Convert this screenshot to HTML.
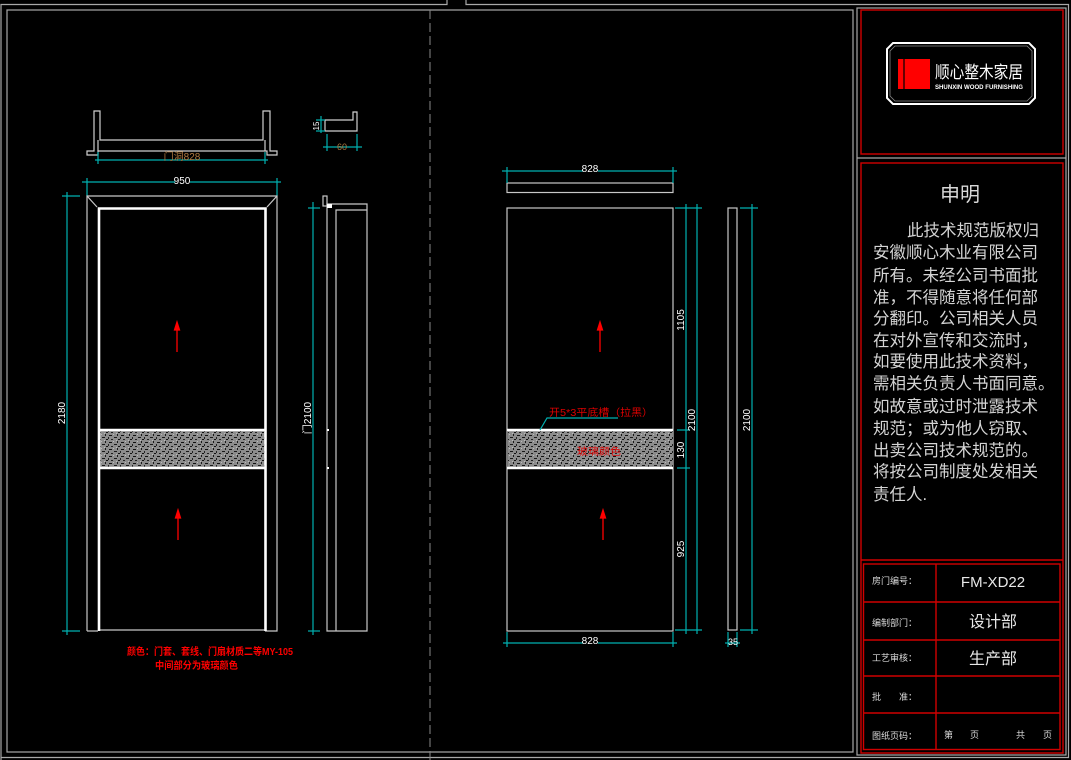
<!DOCTYPE html>
<html><head><meta charset="utf-8">
<style>
html,body{margin:0;padding:0;background:#000;}
svg{display:block;}
text{font-family:"Liberation Sans","Noto Sans CJK SC",sans-serif;}
</style></head>
<body>
<svg width="1071" height="760" viewBox="0 0 1071 760" xmlns="http://www.w3.org/2000/svg">
<defs>
<pattern id="tex" width="12" height="7" patternUnits="userSpaceOnUse">
<rect width="12" height="7" fill="#8c8c8c"/>
<rect x="1" y="1" width="3" height="1" fill="#111"/>
<rect x="6" y="3" width="3" height="1" fill="#1a1a1a"/>
<rect x="3" y="5" width="2" height="1" fill="#222"/>
<rect x="9" y="0" width="1" height="2" fill="#1a1a1a"/>
<rect x="10" y="5" width="2" height="1" fill="#111"/>
<rect x="0" y="3" width="1" height="2" fill="#222"/>
<rect x="5" y="0" width="1" height="1" fill="#bbb"/>
<rect x="8" y="6" width="1" height="1" fill="#bbb"/>
</pattern>
</defs>
<rect width="1071" height="760" fill="#000"/>

<!-- outer frames -->
<g fill="none" stroke="#a8a8a8" stroke-width="1.2">
<polyline points="1,760 1,4.5 447,4.5 447,0"/>
<polyline points="466,0 466,4.5 1068.5,4.5 1068.5,757.5 1,757.5"/>
<rect x="7" y="10" width="846" height="742"/>
<rect x="857" y="8" width="209" height="747"/>
<line x1="857" y1="158" x2="1066" y2="158"/>
</g>
<line x1="430" y1="10" x2="430" y2="760" stroke="#888" stroke-width="1" stroke-dasharray="9,4"/>

<!-- ============ LEFT DOOR ============ -->
<!-- top section view -->
<g fill="none" stroke="#d0d0d0" stroke-width="1.2">
<path d="M94,111 L100,111 L100,140 L263,140 L263,111 L270,111 L270,151 L277,151 L277,155 L267,155 L267,151 L98,151 L98,155 L87,155 L87,151 L94,151 Z"/>
<line x1="98" y1="140" x2="98" y2="151"/>
<line x1="265" y1="140" x2="265" y2="151"/>
<path d="M325,120 L353,120 L353,112 L357,112 L357,131 L325,131 Z"/>
</g>
<g stroke="#00b0b0" stroke-width="1.2" fill="none">
<line x1="95" y1="160" x2="268" y2="160"/>
<line x1="98" y1="152" x2="98" y2="164"/><line x1="265" y1="152" x2="265" y2="164"/>
<line x1="321" y1="116" x2="321" y2="133"/>
<line x1="316" y1="120" x2="325" y2="120"/><line x1="316" y1="131" x2="325" y2="131"/>
<line x1="323" y1="147" x2="362" y2="147"/>
<line x1="327" y1="134" x2="327" y2="151"/><line x1="357" y1="134" x2="357" y2="151"/>
<!-- 950 dim -->
<line x1="82" y1="182" x2="281" y2="182"/>
<line x1="87" y1="178" x2="87" y2="196"/><line x1="277" y1="178" x2="277" y2="196"/>
<!-- 2180 dim -->
<line x1="67" y1="192" x2="67" y2="635"/>
<line x1="62" y1="196" x2="80" y2="196"/><line x1="62" y1="631" x2="80" y2="631"/>
<!-- side 2100 dim -->
<line x1="313" y1="202" x2="313" y2="635"/>
<line x1="308" y1="208" x2="320" y2="208"/><line x1="308" y1="631" x2="320" y2="631"/>
</g>
<text x="182" y="160" font-size="10" fill="#b07a40" text-anchor="middle">门洞828</text>
<text x="342" y="150" font-size="9" fill="#b07a40" text-anchor="middle">60</text>
<text transform="translate(319,126) rotate(-90)" font-size="8" fill="#fff" text-anchor="middle">15</text>
<rect x="175" y="176" width="15" height="9" fill="#000"/>
<text x="182" y="184" font-size="10" fill="#fff" text-anchor="middle">950</text>
<text transform="translate(65,413) rotate(-90)" font-size="10" fill="#fff" text-anchor="middle">2180</text>
<text transform="translate(311,418) rotate(-90)" font-size="10" fill="#fff" text-anchor="middle">门2100</text>

<!-- frame -->
<g fill="none" stroke="#c8c8c8" stroke-width="1.2">
<path d="M87,631 L87,196 L277,196 L277,631 L265,631"/>
<path d="M98,631 L87,631"/>
<line x1="87" y1="196" x2="97" y2="207"/><line x1="277" y1="196" x2="267" y2="207"/>
<line x1="98" y1="630" x2="265" y2="630"/>
</g>
<rect x="99" y="430" width="166" height="38" fill="url(#tex)"/>
<g fill="none" stroke="#fff" stroke-width="2.6">
<path d="M99,631 L99,208.5 L265.5,208.5 L265.5,631"/>
<line x1="98" y1="430" x2="266" y2="430"/>
<line x1="98" y1="468" x2="266" y2="468"/>
</g>
<!-- side section -->
<g fill="none" stroke="#c8c8c8" stroke-width="1.2">
<rect x="323" y="196" width="4" height="10"/>
<path d="M327,631 L327,204 L367,204 L367,631 Z"/>
<path d="M336,631 L336,210 L367,210"/>
</g>
<rect x="327" y="204" width="5" height="4" fill="#fff"/>
<rect x="327" y="429" width="2" height="2" fill="#fff"/>
<rect x="327" y="467" width="2" height="2" fill="#fff"/>
<!-- red arrows -->
<g stroke="#f00" stroke-width="1.3" fill="#f00">
<line x1="177" y1="326" x2="177" y2="352"/><path d="M174.5,330 L177,322 L179.5,330 Z"/>
<line x1="178" y1="514" x2="178" y2="540"/><path d="M175.5,518 L178,510 L180.5,518 Z"/>
<line x1="600" y1="326" x2="600" y2="352"/><path d="M597.5,330 L600,322 L602.5,330 Z"/>
<line x1="603" y1="514" x2="603" y2="540"/><path d="M600.5,518 L603,510 L605.5,518 Z"/>
</g>
<text x="127" y="655" font-size="10" font-weight="bold" fill="#f00" textLength="166" lengthAdjust="spacingAndGlyphs">颜色：门套、套线、门扇材质二等MY-105</text>
<text x="155" y="669" font-size="10" font-weight="bold" fill="#f00" textLength="83" lengthAdjust="spacingAndGlyphs">中间部分为玻璃颜色</text>

<!-- ============ RIGHT DOOR ============ -->
<g fill="none" stroke="#c8c8c8" stroke-width="1.2">
<rect x="507" y="183" width="166" height="9.5"/>
<rect x="507" y="208" width="166" height="423"/>
<rect x="728" y="208" width="9" height="422"/>
</g>
<rect x="508" y="430" width="165" height="38" fill="url(#tex)"/>
<g stroke="#fff" stroke-width="2.4">
<line x1="507" y1="430" x2="673" y2="430"/>
<line x1="507" y1="468" x2="673" y2="468"/>
</g>
<g stroke="#00b0b0" stroke-width="1.2" fill="none">
<line x1="502" y1="171" x2="677" y2="171"/>
<line x1="507" y1="167" x2="507" y2="183"/><line x1="673" y1="167" x2="673" y2="183"/>
<line x1="503" y1="643" x2="677" y2="643"/>
<line x1="507" y1="632" x2="507" y2="647"/><line x1="673" y1="632" x2="673" y2="647"/>
<line x1="686" y1="204" x2="686" y2="634"/>
<line x1="697" y1="204" x2="697" y2="634"/>
<line x1="675" y1="208" x2="702" y2="208"/>
<line x1="675" y1="630" x2="702" y2="630"/>
<line x1="677" y1="430" x2="690" y2="430"/>
<line x1="677" y1="468" x2="690" y2="468"/>
<line x1="752" y1="204" x2="752" y2="634"/>
<line x1="740" y1="208" x2="758" y2="208"/>
<line x1="740" y1="630" x2="758" y2="630"/>
<line x1="728" y1="632" x2="728" y2="647"/><line x1="737" y1="632" x2="737" y2="647"/>
<line x1="725" y1="643" x2="740" y2="643"/>
<polyline points="540,430 547,418 618,418"/>
</g>
<rect x="583" y="164" width="15" height="9" fill="#000"/>
<text x="590" y="172" font-size="10" fill="#fff" text-anchor="middle">828</text>
<rect x="583" y="636" width="15" height="9" fill="#000"/>
<text x="590" y="644" font-size="10" fill="#fff" text-anchor="middle">828</text>
<text x="733" y="645" font-size="9" fill="#fff" text-anchor="middle">35</text>
<text transform="translate(684,320) rotate(-90)" font-size="10" fill="#fff" text-anchor="middle">1105</text>
<text transform="translate(684,450) rotate(-90)" font-size="10" fill="#fff" text-anchor="middle">130</text>
<text transform="translate(684,549) rotate(-90)" font-size="10" fill="#fff" text-anchor="middle">925</text>
<text transform="translate(695,420) rotate(-90)" font-size="10" fill="#fff" text-anchor="middle">2100</text>
<text transform="translate(750,420) rotate(-90)" font-size="10" fill="#fff" text-anchor="middle">2100</text>
<text x="549" y="416" font-size="10" fill="#d00" textLength="104" lengthAdjust="spacingAndGlyphs">开5*3平底槽（拉黑）</text>
<text x="577" y="455" font-size="10" fill="#d00" textLength="44" lengthAdjust="spacingAndGlyphs">玻璃颜色</text>

<!-- ============ TITLE BLOCK ============ -->
<g fill="none" stroke="#d00000" stroke-width="1.4">
<rect x="861" y="10" width="202" height="144"/>
<rect x="861" y="163" width="202" height="590"/>
<line x1="861" y1="560" x2="1063" y2="560"/>
<rect x="863.5" y="564" width="196.5" height="185.5"/>
<line x1="863" y1="602" x2="1060" y2="602"/>
<line x1="863" y1="640" x2="1060" y2="640"/>
<line x1="863" y1="676" x2="1060" y2="676"/>
<line x1="863" y1="713" x2="1060" y2="713"/>
<line x1="936" y1="564" x2="936" y2="750"/>
</g>
<!-- logo -->
<path d="M893,43 L1029,43 L1035,49 L1035,98 L1029,104 L893,104 L887,98 L887,49 Z" fill="none" stroke="#fff" stroke-width="2"/>
<path d="M895,46 L1027,46 L1032,51 L1032,96 L1027,101 L895,101 L890,96 L890,51 Z" fill="none" stroke="#888" stroke-width="0.8"/>
<rect x="898" y="59" width="32" height="30" fill="#f00"/>
<line x1="904" y1="59" x2="904" y2="89" stroke="#000" stroke-width="1.2"/>
<text x="935" y="78" font-size="17" fill="#fff" textLength="88" lengthAdjust="spacingAndGlyphs">顺心整木家居</text>
<text x="935" y="89" font-size="6" font-weight="bold" fill="#fff" textLength="88" lengthAdjust="spacingAndGlyphs">SHUNXIN WOOD FURNISHING</text>
<!-- statement -->
<text x="960" y="201" font-size="20" fill="#d8d8d8" text-anchor="middle">申明</text>
<g font-size="16.5" fill="#d4d4d4">
<text x="907" y="236">此技术规范版权归</text>
<text x="873" y="258">安徽顺心木业有限公司</text>
<text x="873" y="281">所有。未经公司书面批</text>
<text x="873" y="303">准，不得随意将任何部</text>
<text x="873" y="324">分翻印。公司相关人员</text>
<text x="873" y="346">在对外宣传和交流时，</text>
<text x="873" y="367">如要使用此技术资料，</text>
<text x="873" y="389">需相关负责人书面同意。</text>
<text x="873" y="412">如故意或过时泄露技术</text>
<text x="873" y="434">规范；或为他人窃取、</text>
<text x="873" y="456">出卖公司技术规范的。</text>
<text x="873" y="477">将按公司制度处发相关</text>
<text x="873" y="500">责任人.</text>
</g>
<!-- table -->
<g font-size="9" fill="#dcdcdc">
<text x="872" y="584">房门编号：</text>
<text x="872" y="626">编制部门：</text>
<text x="872" y="661">工艺审核：</text>
<text x="872" y="700">批　　准：</text>
<text x="872" y="739">图纸页码：</text>
<text x="944" y="738">第</text>
<text x="970" y="738">页</text>
<text x="1016" y="738">共</text>
<text x="1043" y="738">页</text>
</g>
<text x="993" y="587" font-size="15" fill="#e8e8e8" text-anchor="middle">FM-XD22</text>
<text x="993" y="627" font-size="16" fill="#e8e8e8" text-anchor="middle">设计部</text>
<text x="993" y="664" font-size="16" fill="#e8e8e8" text-anchor="middle">生产部</text>
</svg>
</body></html>
